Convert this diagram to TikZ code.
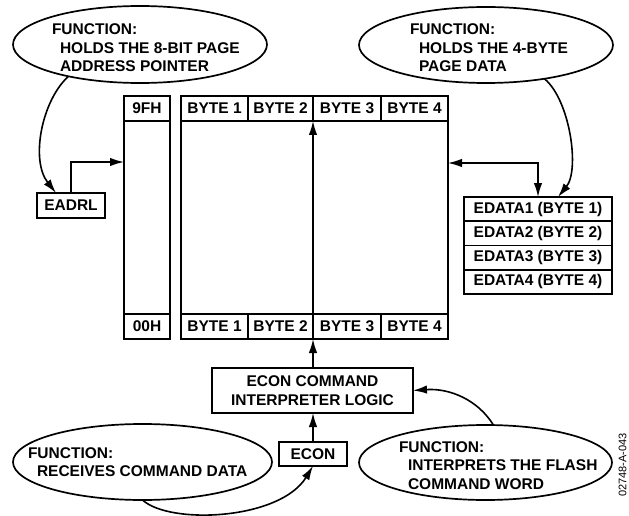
\documentclass[tikz,border=0pt]{standalone}
\usepackage{fontspec}
\setmainfont{Liberation Sans}
\usetikzlibrary{shapes.geometric,arrows.meta,calc}
\begin{document}
\begin{tikzpicture}[x=1pt,y=-1pt,
  every node/.style={font=\bfseries\fontsize{15.5}{18.5}\selectfont, inner sep=0pt, outer sep=0pt},
  box/.style={draw, line width=1.8pt, rectangle},
  bubble/.style={draw, line width=1.7pt, ellipse},
  txt/.style={align=left, anchor=north west},
  arr/.style={line width=1.6pt, -{Latex[length=14pt,width=8.5pt]}},
  darr/.style={line width=1.6pt, {Latex[length=14pt,width=8.5pt]}-{Latex[length=14pt,width=8.5pt]}},
  cell/.style={box, anchor=north west, minimum height=25pt}
]
\useasboundingbox (0,0) rectangle (629,516);

% ellipses
\node[bubble, minimum width=254pt, minimum height=77pt] (e1) at (140,44.5) {};
\node[txt] (t1) at (52,24) {FUNCTION:\\\hspace*{8pt}HOLDS THE 8-BIT PAGE\\\hspace*{8pt}ADDRESS POINTER};
\node[bubble, minimum width=254pt, minimum height=76pt] (e2) at (486,45) {};
\node[txt] (t2) at (410,24) {FUNCTION:\\\hspace*{9pt}HOLDS THE 4-BYTE\\\hspace*{9pt}PAGE DATA};
\node[bubble, minimum width=259pt, minimum height=76pt] (e3) at (142.5,462) {};
\node[txt] (t3) at (28,447.5) {FUNCTION:\\\hspace*{9pt}RECEIVES COMMAND DATA};
\node[bubble, minimum width=253pt, minimum height=75pt] (e4) at (485.5,462.5) {};
\node[txt] (t4) at (399,441.5) {FUNCTION:\\\hspace*{9pt}INTERPRETS THE FLASH\\\hspace*{9pt}COMMAND WORD};

% address column
\node[box, anchor=north west, minimum width=46pt, minimum height=243pt] (col) at (124,96) {};
\node[cell, minimum width=46pt] (c9) at (124,96) {9FH};
\node[cell, minimum width=46pt] (c0) at (124,314) {00H};

% memory page
\node[box, anchor=north west, minimum width=267pt, minimum height=243pt] (mem) at (181,96) {};
\foreach \i/\x/\w in {1/181/67,2/248/65,3/313/68,4/381/67}{
  \node[cell, minimum width=\w pt] (h\i) at (\x,96) {BYTE \i};
  \node[cell, minimum width=\w pt] (f\i) at (\x,314) {BYTE \i};
}

% EADRL
\node[box, minimum width=68pt, minimum height=25pt] (eadrl) at (71,205.5) {EADRL};

% EDATA
\foreach \i in {1,...,4}{
  \node[box, minimum width=148pt, minimum height=24.25pt] (d\i) at (538,{197+24.25*(\i-0.5)}) {EDATA\i{} (BYTE \i)};
}

% command logic
\node[box, minimum width=201pt, minimum height=45pt, align=center] (ecl) at (312.5,390.5) {ECON COMMAND\\INTERPRETER LOGIC};
\node[box, minimum width=68pt, minimum height=24pt] (econ) at (313,454) {ECON};

% connectors
\draw[arr] (econ.north) -- (econ.north |- ecl.south);
\draw[arr] (f2.south east |- ecl.north) -- (f2.south east);
\draw[arr] (f2.north east) -- (h2.south east);
\coordinate (ein) at (124,162);
\draw[arr] (eadrl.north) |- (ein);
\coordinate (min) at (448,163);
\draw[darr] (min) -| (d1.north);

\draw[arr] (e1.204) .. controls (42,100) and (30,160) .. ($(eadrl.north west)+(19,0)$);
\draw[arr] (e2.-30) .. controls (570,100) and (580,170) .. ($(d1.north)+(20,0)$);
\draw[arr] (e3.south) .. controls (170,525) and (280,520) .. (econ.south);
\draw[arr] (e4.78) .. controls (478,400) and (450,388) .. (ecl.east);

\node[font=\mdseries\fontsize{11}{13}\selectfont, rotate=90] (lbl) at (622.5,465) {02748-A-043};
\end{tikzpicture}
\end{document}
